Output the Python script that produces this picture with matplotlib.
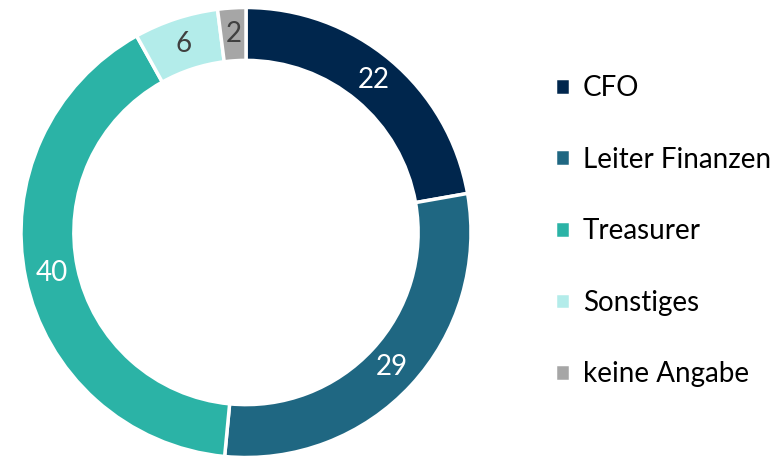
import matplotlib
matplotlib.use("Agg")
import matplotlib.pyplot as plt
import numpy as np

labels = ["CFO", "Leiter Finanzen", "Treasurer", "Sonstiges", "keine Angabe"]
values = [22, 29, 40, 6, 2]
colors = ["#00264D", "#1F6782", "#2BB3A6", "#B3ECEA", "#A6A6A6"]
text_colors = ["white", "white", "white", "#404040", "#404040"]

plt.rcParams['font.family'] = ['Lato', 'DejaVu Sans']

W, H = 781, 458
fig = plt.figure(figsize=(W / 100, H / 100), dpi=100)

cx, cy, r = 246, 232.5, 225
ax = fig.add_axes([(cx - r) / W, (H - cy - r) / H, 2 * r / W, 2 * r / H])

ring = 0.235
wedges, _ = ax.pie(values, colors=colors, startangle=90, counterclock=False,
                   radius=1, wedgeprops=dict(width=ring, edgecolor="white", linewidth=2.5))

total = sum(values)
cum = 0
for v, tc in zip(values, text_colors):
    mid = 90 - (cum + v / 2) / total * 360
    cum += v
    rr = 1 - ring / 2
    ax.text(rr * np.cos(np.radians(mid)), rr * np.sin(np.radians(mid)), str(v),
            ha="center", va="center", fontsize=20, color=tc)

ax.set_xlim(-1, 1)
ax.set_ylim(-1, 1)
ax.set_aspect("equal")
ax.axis("off")

fig.legend(wedges, labels, loc="upper left", bbox_to_anchor=(544 / W, 1 - 64 / H),
           frameon=False, fontsize=20, handlelength=0.55, handleheight=0.55,
           handletextpad=0.45, labelspacing=1.64, borderaxespad=0)

fig.savefig("out.png", dpi=100)
